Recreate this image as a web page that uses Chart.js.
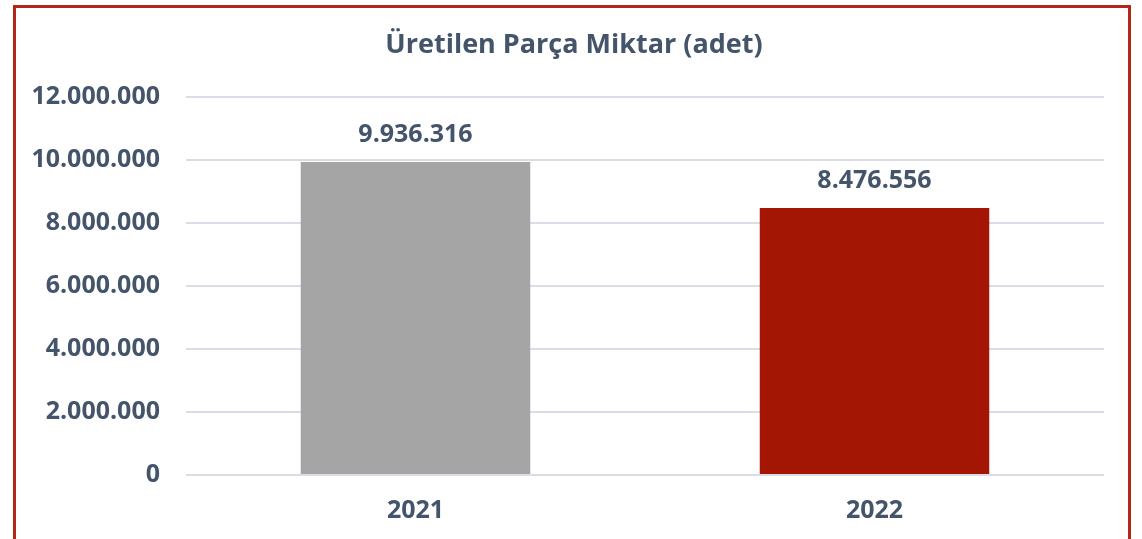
<!DOCTYPE html>
<html>
<head>
<meta charset="utf-8">
<script src="https://cdn.jsdelivr.net/npm/chart.js@4"></script>
<style>
  html, body { margin: 0; padding: 0; background: #fff; }
  #wrap { position: relative; width: 1142px; height: 539px; overflow: hidden; }
  #frame { position: absolute; left: 13px; top: 5px; width: 1112px; height: 600px;
           border: 3px solid #B5261A; box-sizing: content-box; }
  #c { position: absolute; left: 0; top: 0; }
</style>
</head>
<body>
<div id="wrap">
  <div id="frame"></div>
  <canvas id="c" width="1142" height="539"></canvas>
</div>
<script>
// data
const years = ["2021", "2022"];
const parts = [9936316, 8476556];
const barColors = ["#A5A5A5", "#A31603"];
const chartTitle = "Üretilen Parça Miktar (adet)";

const textColor = "#44546A";
const fontFam = "'Open Sans', sans-serif";

// 9936316 -> 9.936.316
function fmt(n) {
  return String(n).replace(/\B(?=(\d{3})+(?!\d))/g, ".");
}

// value labels on top of bars + title over the whole frame
const valueLabels = {
  id: "valueLabels",
  afterDatasetsDraw(chart) {
    const ctx = chart.ctx;
    const meta = chart.getDatasetMeta(0);
    ctx.save();
    ctx.fillStyle = textColor;
    ctx.font = "bold 25px " + fontFam;
    ctx.textAlign = "center";
    ctx.textBaseline = "middle";
    meta.data.forEach((bar, i) => {
      ctx.fillText(fmt(parts[i]), bar.x, bar.y - 27);
    });
    ctx.font = "bold 27px " + fontFam;
    ctx.fillText(chartTitle, 574, 45);
    ctx.restore();
  }
};

new Chart(document.getElementById("c"), {
  type: "bar",
  data: {
    labels: years,
    datasets: [{
      data: parts,
      backgroundColor: barColors,
      categoryPercentage: 0.5,
      barPercentage: 1
    }]
  },
  options: {
    responsive: false,
    animation: false,
    layout: { padding: { left: 0, right: 38, top: 97, bottom: 0 } },
    plugins: {
      legend: { display: false },
      tooltip: { enabled: false },
      title: { display: false }
    },
    scales: {
      x: {
        afterFit(s) { s.height = 64; },
        grid: { display: false, drawTicks: false },
        border: { display: false },
        ticks: {
          color: textColor,
          padding: 21,
          font: { family: fontFam, size: 25, weight: "bold" }
        }
      },
      y: {
        min: 0,
        max: 12000000,
        afterFit(s) { s.width = 186; },
        grid: { color: "#D9DEE6", lineWidth: 2, drawTicks: false },
        border: { display: false },
        ticks: {
          stepSize: 2000000,
          color: textColor,
          padding: 26,
          font: { family: fontFam, size: 25, weight: "bold" },
          callback: (v) => fmt(v)
        }
      }
    }
  },
  plugins: [valueLabels]
});
</script>
</body>
</html>
